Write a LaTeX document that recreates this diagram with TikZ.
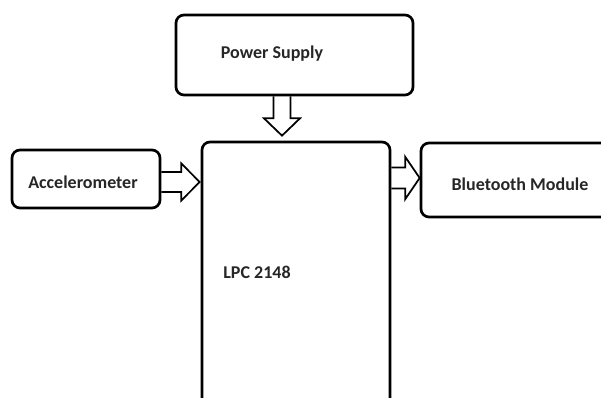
\documentclass[tikz,border=0pt]{standalone}
\usepackage{fontspec}
\setmainfont{Carlito}
\usetikzlibrary{positioning,calc}

\begin{document}
\begin{tikzpicture}[x=0.75pt, y=-0.75pt,
   block/.style={draw, line width=2pt, rounded corners=6pt, inner sep=0pt},
   lbl/.style={font=\fontsize{13.5}{16}\selectfont\bfseries, text=black!85, inner sep=0pt},
   hollow/.style={draw, line width=1.3pt, line join=miter}]
  \useasboundingbox (0,0) rectangle (601,398);
  \clip (0,0) rectangle (601,398);

  \node[block, minimum width=177.75pt, minimum height=60pt] (ps) at (294.5,55) {};
  \node[block, minimum width=141pt, minimum height=208.5pt] (lpc) at (296,281) {};
  \node[block, minimum width=111pt, minimum height=43.5pt] (acc) at (86,179) {};
  \node[block, minimum width=153pt, minimum height=55.5pt] (bt) at (523,180) {};

  \node[lbl] (pstext) at ($(ps)+(-22.5,-1)$) {Power Supply};
  \node[lbl] (lpctext) at ($(lpc)+(-39,-9)$) {LPC 2148};
  \node[lbl] (acctext) at ($(acc)+(-3,3)$) {Accelerometer};
  \node[lbl] (bttext) at ($(bt)+(-3,4)$) {Bluetooth Module};

  % block arrows
  \coordinate (pa) at ($(ps.south)+(-12.5,0)$);
  \draw[hollow] ($(pa)+(-8.5,0)$) -- ++(0,22) -- ++(-9.5,0)
    -- ($(pa |- lpc.north)+(0,-5)$) -- ($(pa)+(18,22)$) -- ++(-9.5,0) -- ++(0,-22);

  \coordinate (aa) at ($(acc.east)+(0,3)$);
  \draw[hollow] ($(aa)+(0,-10)$) -- ++(20,0) -- ++(0,-8.5)
    -- ($(aa -| lpc.west)+(-1,0)$) -- ($(aa)+(20,18.5)$) -- ++(0,-8.5) -- ++(-20,0);

  \coordinate (ba) at ($(lpc.east |- bt.west)+(0,-2)$);
  \draw[hollow] ($(ba)+(0,-10.5)$) -- ++(14,0) -- ++(0,-10.5)
    -- (ba -| bt.west) -- ($(ba)+(14,21)$) -- ++(0,-10.5) -- ++(-14,0);
\end{tikzpicture}
\end{document}
